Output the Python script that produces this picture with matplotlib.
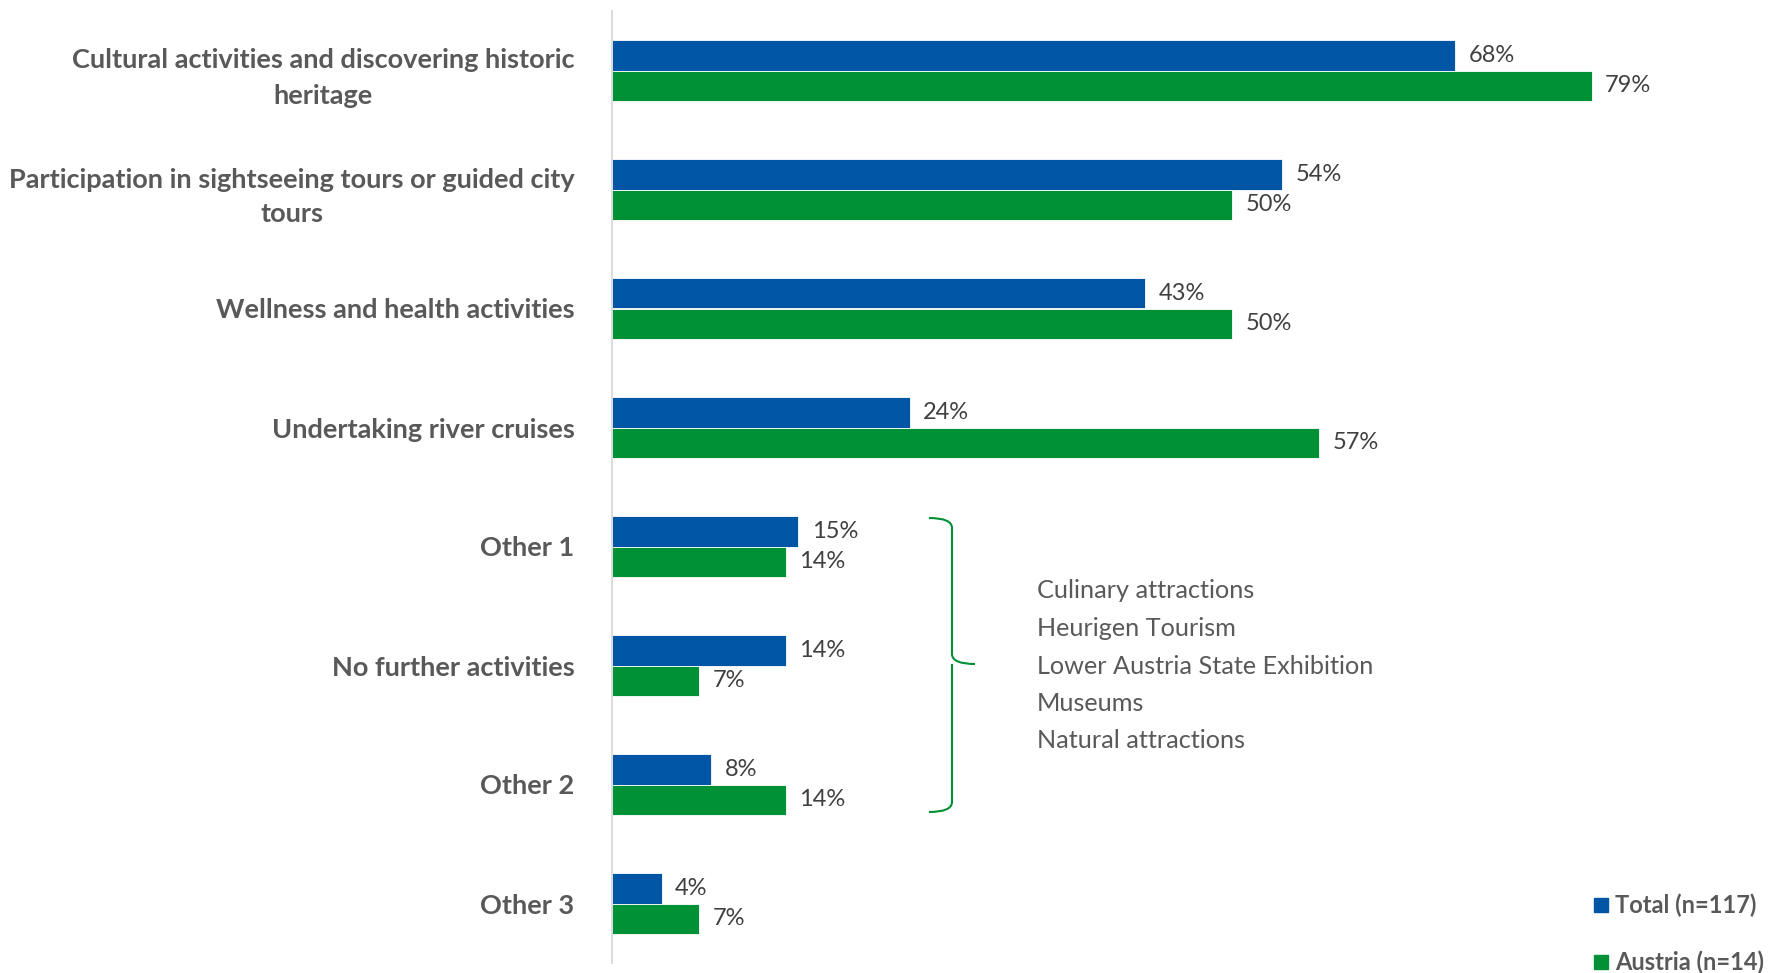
import matplotlib.pyplot as plt
from matplotlib.path import Path
from matplotlib.patches import PathPatch
import numpy as np

categories = [
    "Cultural activities and discovering historic\nheritage",
    "Participation in sightseeing tours or guided city\ntours",
    "Wellness and health activities",
    "Undertaking river cruises",
    "Other 1",
    "No further activities",
    "Other 2",
    "Other 3",
]
total = [68, 54, 43, 24, 15, 14, 8, 4]
austria = [79, 50, 50, 57, 14, 7, 14, 7]
other_items = ["Culinary attractions", "Heurigen Tourism",
               "Lower Austria State Exhibition", "Museums", "Natural attractions"]

BLUE = "#0055A5"
GREEN = "#009036"
GREY = "#595959"

plt.rcParams['font.family'] = ['Lato', 'DejaVu Sans']

W, H = 1773, 973
fig = plt.figure(figsize=(W / 100, H / 100), dpi=100)
ax = fig.add_axes([612 / W, 1 - 963 / H, 1116 / W, 952 / H])

y = np.arange(len(categories))
h = 0.257
ax.barh(y - h / 2, total, height=h, color=BLUE, edgecolor="white", linewidth=0.6, label="Total (n=117)")
ax.barh(y + h / 2, austria, height=h, color=GREEN, edgecolor="white", linewidth=0.6, label="Austria (n=14)")

for yi, t, a in zip(y, total, austria):
    ax.text(t + 1.1, yi - h / 2, f"{t}%", va="center", ha="left", fontsize=17, color="#404040")
    ax.text(a + 1.1, yi + h / 2, f"{a}%", va="center", ha="left", fontsize=17, color="#404040")

ax.set_xlim(0, 90)
ax.set_ylim(len(categories) - 0.5, -0.5)
ax.set_yticks(y)
ax.set_yticklabels(categories, fontsize=19.5, fontweight="bold", color=GREY,
                   linespacing=1.55, multialignment="center")
ax.tick_params(axis="y", length=0, pad=27)
ax.set_xticks([])
for s in ["top", "right", "bottom"]:
    ax.spines[s].set_visible(False)
ax.spines["left"].set_color("#D9D9D9")
ax.spines["left"].set_linewidth(1.3)

# curly bracket beside the "other" groups (figure pixel coords)
def px(x, yy):
    return (x / W, 1 - yy / H)

xl, xm, xt = 929, 952, 975
y0, ym, y1 = 518, 664, 812
verts = [px(xl, y0), px(xm, y0), px(xm, y0 + 10),
         px(xm, ym - 10),
         px(xm, ym), px(xt, ym),
         px(xm, ym), px(xm, ym + 10),
         px(xm, y1 - 10),
         px(xm, y1), px(xl, y1)]
codes = [Path.MOVETO, Path.CURVE3, Path.CURVE3,
         Path.LINETO,
         Path.CURVE3, Path.CURVE3,
         Path.MOVETO, Path.LINETO,
         Path.LINETO,
         Path.CURVE3, Path.CURVE3]
fig.patches.append(PathPatch(Path(verts, codes), transform=fig.transFigure,
                             fill=False, edgecolor=GREEN, linewidth=1.5))

for i, item in enumerate(other_items):
    fig.text(1037 / W, 1 - (591 + 37.5 * i) / H, item, fontsize=18.2, color=GREY,
             ha="left", va="center")

# legend
for i, (lab, col) in enumerate([("Total (n=117)", BLUE), ("Austria (n=14)", GREEN)]):
    yy = 905 + 57 * i
    fig.patches.append(plt.Rectangle(px(1594, yy + 7), 14 / W, 14 / H,
                                     transform=fig.transFigure, color=col))
    fig.text(1615 / W, 1 - yy / H, lab, fontsize=17, fontweight="bold",
             color=GREY, ha="left", va="center")

fig.savefig("out.png", dpi=100)
